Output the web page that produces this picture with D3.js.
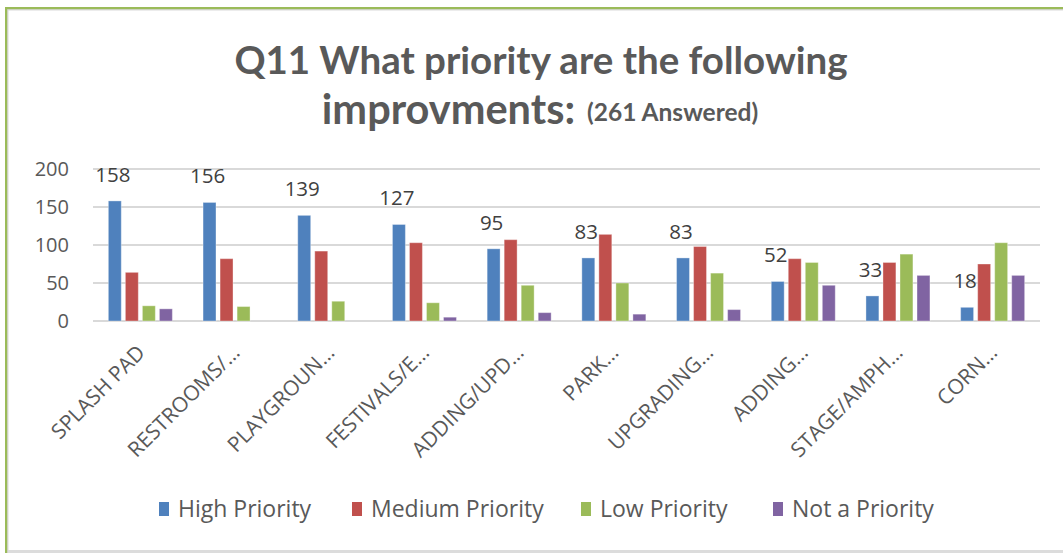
<!DOCTYPE html>
<html>
<head>
<meta charset="utf-8">
<script src="https://cdn.jsdelivr.net/npm/d3@7"></script>
<style>
  body { margin: 0; background: #fff; }
  svg { display: block; }
  text { font-family: "Open Sans", Lato, sans-serif; }
  .title { font-family: Lato, "Open Sans", sans-serif; }
</style>
</head>
<body>
<svg id="chart" width="1063" height="553"></svg>
<script>
// Survey answers per improvement, one array per priority level
const categories = ["SPLASH PAD", "RESTROOMS/…", "PLAYGROUN…", "FESTIVALS/E…", "ADDING/UPD…",
                    "PARK…", "UPGRADING…", "ADDING…", "STAGE/AMPH…", "CORN…"];
const highPriority   = [158, 156, 139, 127, 95, 83, 83, 52, 33, 18];
const mediumPriority = [64, 82, 92, 103, 107, 114, 98, 82, 77, 75];
const lowPriority    = [20, 19, 26, 24, 47, 50, 63, 77, 88, 103];
const notPriority    = [16, 0, 0, 5, 11, 9, 15, 47, 60, 60];
const seriesNames = ["High Priority", "Medium Priority", "Low Priority", "Not a Priority"];
const yTicks = [0, 50, 100, 150, 200];
const titleLine1 = "Q11 What priority are the following";
const titleLine2 = "improvments:";
const titleNote = "(261 Answered)";

const seriesValues = [highPriority, mediumPriority, lowPriority, notPriority];
const colors = ["#4f81bd", "#c0504d", "#9bbb59", "#8064a2"];
const textColor = "#595959";
const fontStack = "'Open Sans', Lato, sans-serif";

const svg = d3.select("#chart");

// frame: green top/left edge with a soft grey shadow, grey bottom edge
svg.append("rect").attr("x", 7).attr("y", 9).attr("width", 1056).attr("height", 1.5).attr("fill", "#d9d9d9");
svg.append("rect").attr("x", 7).attr("y", 9).attr("width", 1.5).attr("height", 544).attr("fill", "#d9d9d9");
svg.append("rect").attr("x", 8).attr("y", 550).attr("width", 1055).attr("height", 3).attr("fill", "#dcdcdc");
svg.append("rect").attr("x", 5).attr("y", 7).attr("width", 1058).attr("height", 2.2).attr("fill", "#9bbb59");
svg.append("rect").attr("x", 5).attr("y", 7).attr("width", 2.2).attr("height", 546).attr("fill", "#9bbb59");

// title
svg.append("text")
  .attr("class", "title")
  .attr("x", 541).attr("y", 74)
  .attr("text-anchor", "middle")
  .attr("fill", textColor)
  .attr("font-weight", 700)
  .attr("font-size", 38.5)
  .text(titleLine1);
const t2 = svg.append("text")
  .attr("class", "title")
  .attr("x", 540).attr("y", 124)
  .attr("text-anchor", "middle")
  .attr("fill", textColor)
  .attr("font-weight", 700)
  .attr("font-size", 41.5);
t2.append("tspan").text(titleLine2);
t2.append("tspan").attr("font-size", 24.5).attr("dx", 12).attr("dy", -3).text(titleNote);

// scales
const x0 = d3.scaleBand().domain(categories).range([93, 1040]).padding(0);
const x1 = d3.scaleBand().domain(seriesNames).range([0, 64]).paddingInner(0.24);
const y = d3.scaleLinear().domain([0, 200]).range([321, 169]);

// gridlines
svg.append("g")
  .selectAll("line")
  .data(yTicks)
  .join("line")
  .attr("x1", 93).attr("x2", 1040)
  .attr("y1", d => y(d)).attr("y2", d => y(d))
  .attr("stroke", "#d9d9d9").attr("stroke-width", 2);

// y axis labels
const yAxis = svg.append("g")
  .attr("transform", "translate(69,0)")
  .call(d3.axisLeft(y).tickValues(yTicks).tickSize(0).tickPadding(0));
yAxis.select(".domain").remove();
yAxis.selectAll("text")
  .attr("fill", textColor)
  .attr("font-size", 20)
  .attr("font-family", fontStack);

// bars
const groups = svg.append("g")
  .selectAll("g")
  .data(categories)
  .join("g")
  .attr("transform", d => `translate(${x0(d) + x0.bandwidth() / 2 - 32},0)`);

groups.selectAll("rect")
  .data((c, i) => seriesNames.map((s, k) => ({ s, k, v: seriesValues[k][i] })))
  .join("rect")
  .filter(d => d.v > 0)
  .attr("x", d => x1(d.s))
  .attr("width", x1.bandwidth())
  .attr("y", d => y(d.v))
  .attr("height", d => y(0) - y(d.v))
  .attr("fill", d => colors[d.k])
  .attr("stroke", "rgba(255,255,255,0.35)")
  .attr("stroke-width", 1);

// value labels for the high priority series
groups.append("text")
  .attr("x", x1("High Priority") + x1.bandwidth() / 2 - 2)
  .attr("y", (c, i) => y(highPriority[i]) - 19)
  .attr("text-anchor", "middle")
  .attr("fill", "#404040")
  .attr("font-size", 20.5)
  .text((c, i) => highPriority[i]);

// category labels, rotated
const xAxis = svg.append("g")
  .attr("transform", `translate(0,${y(0)})`)
  .call(d3.axisBottom(x0).tickSize(0).tickPadding(0));
xAxis.select(".domain").remove();
xAxis.selectAll(".tick text")
  .attr("fill", textColor)
  .attr("font-size", 21)
  .attr("font-family", fontStack)
  .attr("text-anchor", "end")
  .attr("dy", 0)
  .attr("transform", "translate(6,33) rotate(-45)");

// legend
const legendX = [159, 352, 581, 773];
const legend = svg.append("g")
  .selectAll("g")
  .data(seriesNames)
  .join("g")
  .attr("transform", (d, i) => `translate(${legendX[i]},509)`);
legend.append("rect")
  .attr("x", 0).attr("y", -7)
  .attr("width", 10).attr("height", 14)
  .attr("fill", (d, i) => colors[i]);
legend.append("text")
  .attr("x", 19).attr("y", 8)
  .attr("fill", textColor)
  .attr("font-size", 23)
  .text(d => d);
</script>
</body>
</html>
